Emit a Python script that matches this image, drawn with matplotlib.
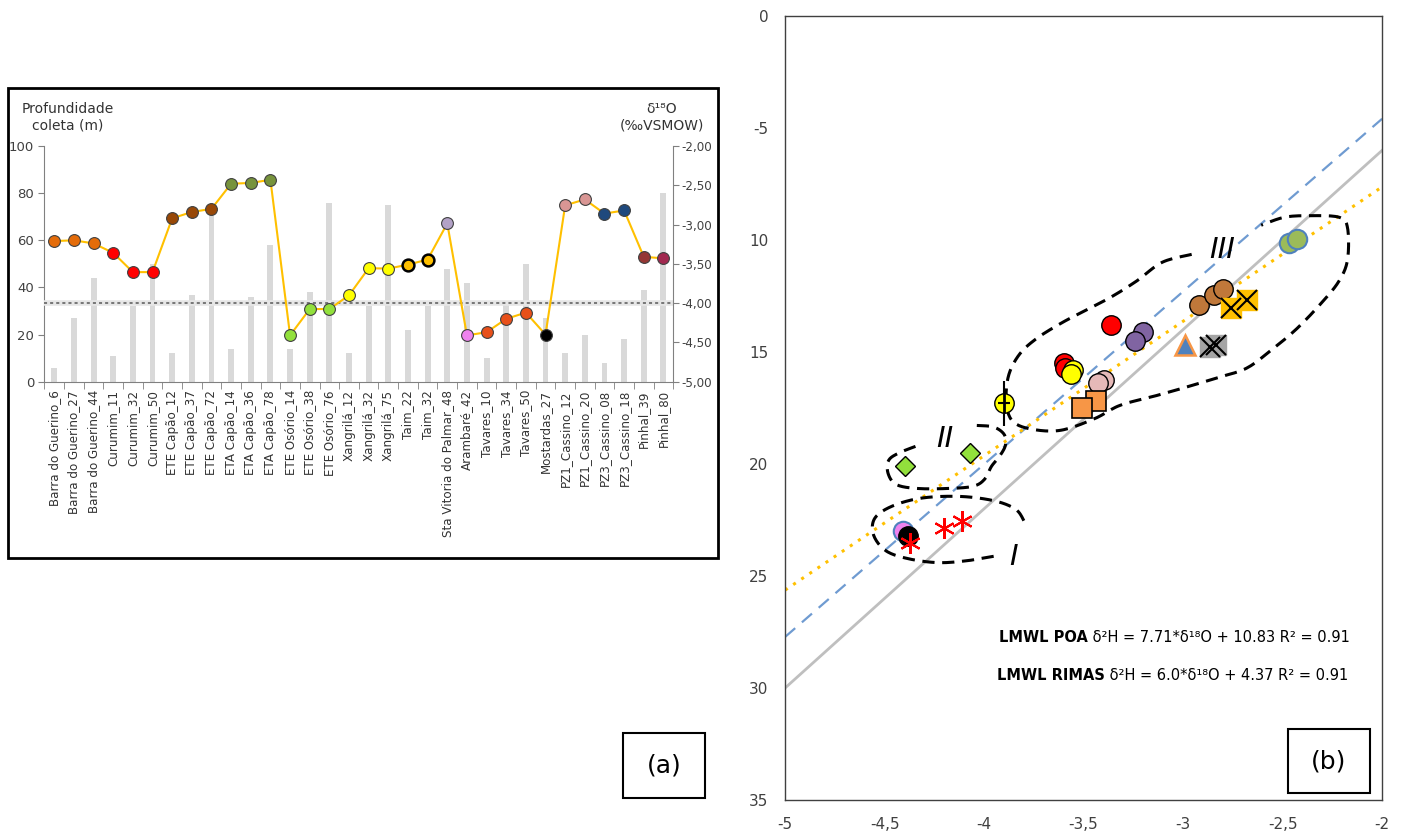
import numpy as np
import matplotlib
matplotlib.use("Agg")
import matplotlib.pyplot as plt
from matplotlib.patches import Rectangle

plt.rcParams['font.family'] = ['DejaVu Sans']

# ---------------- Data: panel (a) ----------------
categories = ["Barra do Guerino_6", "Barra do Guerino_27", "Barra do Guerino_44",
              "Curumim_11", "Curumim_32", "Curumim_50",
              "ETE Capão_12", "ETE Capão_37", "ETE Capão_72",
              "ETA Capão_14", "ETA Capão_36", "ETA Capão_78",
              "ETE Osório_14", "ETE Osório_38", "ETE Osório_76",
              "Xangrilá_12", "Xangrilá_32", "Xangrilá_75",
              "Taim_22", "Taim_32", "Sta Vitoria do Palmar_48", "Arambaré_42",
              "Tavares_10", "Tavares_34", "Tavares_50", "Mostardas_27",
              "PZ1_Cassino_12", "PZ1_Cassino_20", "PZ3_Cassino_08", "PZ3_Cassino_18",
              "Pinhal_39", "Pinhal_80"]
depth_m = [6, 27, 44, 11, 32, 50, 12, 37, 72, 14, 36, 58, 14, 38, 76, 12, 32, 75,
           22, 32, 48, 42, 10, 34, 50, 27, 12, 20, 8, 18, 39, 80]
d18O = [-3.21, -3.20, -3.24, -3.36, -3.605, -3.605, -2.92, -2.84, -2.80,
        -2.48, -2.47, -2.43, -4.41, -4.075, -4.075, -3.90, -3.555, -3.56,
        -3.51, -3.445, -2.985, -4.41, -4.37, -4.20, -4.12, -4.40,
        -2.755, -2.68, -2.86, -2.82, -3.41, -3.43]
point_colors = ["#E46C0A", "#E46C0A", "#E46C0A", "#FF0000", "#FF0000", "#FF0000",
                "#984807", "#984807", "#984807", "#77933C", "#77933C", "#77933C",
                "#92E03C", "#92E03C", "#92E03C", "#FFFF00", "#FFFF00", "#FFFF00",
                "#FFC000", "#FFC000", "#B3A2C7", "#EE82EE",
                "#E8501A", "#E8501A", "#E8501A", "#000000",
                "#D99694", "#D99694", "#1F497D", "#1F497D", "#953735", "#A1284F"]
thick_edge = ["Taim_22", "Taim_32"]
threshold_d18O = -4.0

# ---------------- Data: panel (b) ----------------
gmwl = (8.0, 10.0)
lmwl_poa = (7.71, 10.83)
lmwl_rimas = (6.0, 4.37)

red_x = [-3.60, -3.595, -3.36];      red_y = [15.5, 15.7, 13.8]
yellow_x = [-3.555, -3.565];         yellow_y = [15.8, 16.0]
yellowH_x = [-3.90];                 yellowH_y = [17.3]
purple_x = [-3.20, -3.24];           purple_y = [14.1, 14.5]
pink_x = [-3.40, -3.43];             pink_y = [16.25, 16.4]
orange_sq_x = [-3.44, -3.51];        orange_sq_y = [17.2, 17.5]
brown_x = [-2.92, -2.845, -2.80];    brown_y = [12.9, 12.45, 12.2]
gold_x = [-2.76, -2.68];             gold_y = [13.05, 12.7]
tri_x = [-2.99];                     tri_y = [14.7]
gray_x = [-2.865, -2.835];           gray_y = [14.78, 14.7]
green_x = [-2.47, -2.43];            green_y = [10.15, 9.95]
diamond_x = [-4.40, -4.07];          diamond_y = [20.1, 19.5]
violet_x = [-4.41];                  violet_y = [23.0]
black_x = [-4.38];                   black_y = [23.2]
ast_x = [-4.37, -4.20, -4.11];       ast_y = [23.55, 22.85, 22.55]

xticks_b = [-5, -4.5, -4, -3.5, -3, -2.5, -2]
xticklabels_b = ["-5", "-4,5", "-4", "-3,5", "-3", "-2,5", "-2"]
yticks_b = [0, 5, 10, 15, 20, 25, 30, 35]
yticklabels_b = ["0", "-5", "10", "15", "20", "25", "30", "35"]

# ---------------- Figure ----------------
fig = plt.figure(figsize=(14.02, 8.32), dpi=100)

# Frame around panel (a)
fig.patches.append(Rectangle((0.0057, 0.3293), 0.5064, 0.565, transform=fig.transFigure,
                             fill=False, lw=2, ec='black'))

ax1 = fig.add_axes([0.0317, 0.5412, 0.4485, 0.2833])
ax2 = ax1.twinx()
n = len(categories)
xpos = np.arange(n)
ax1.bar(xpos, depth_m, width=0.3, color="#D9D9D9", zorder=1)
ax1.set_ylim(0, 100)
ax1.set_xlim(-0.5, n - 0.5)
ax1.set_yticks([0, 20, 40, 60, 80, 100])
ax1.set_xticks(xpos)
ax1.set_xticklabels(categories, rotation=90, fontsize=8.6, color="#333333")
ax1.tick_params(axis='x', length=0, pad=6)
ax1.set_xticks(np.arange(-0.5, n, 1.0), minor=True)
ax1.tick_params(axis='x', which='minor', length=5, color='#808080', direction='out')
ax1.tick_params(axis='y', labelsize=9.5, labelcolor='#404040', length=4, color='#808080')
for s in ['top', 'right']:
    ax1.spines[s].set_visible(False)
ax1.spines['left'].set_color('#808080')
ax1.spines['bottom'].set_color('#808080')

ax2.set_ylim(-5, -2)
ax2.set_yticks([-5, -4.5, -4, -3.5, -3, -2.5, -2])
ax2.set_yticklabels(["-5,00", "-4,50", "-4,00", "-3,50", "-3,00", "-2,50", "-2,00"])
ax2.tick_params(axis='y', labelsize=8.6, labelcolor='#404040', length=4, color='#808080', pad=2)
for s in ['top', 'left', 'bottom']:
    ax2.spines[s].set_visible(False)
ax2.spines['right'].set_color('#808080')
ax2.axhline(threshold_d18O, color='#E6E6E6', lw=4, zorder=1)
ax2.axhline(threshold_d18O, color='#595959', lw=1.1, ls=(0, (2, 2)), zorder=2)
ax2.plot(xpos, d18O, color="#FFC000", lw=1.5, zorder=3)
for i in range(n):
    thick = categories[i] in thick_edge
    ax2.plot(xpos[i], d18O[i], 'o', ms=8.5, mfc=point_colors[i],
             mec='black' if thick else '#404040', mew=1.8 if thick else 0.8, zorder=4)

fig.text(0.048, 0.859, "Profundidade\ncoleta (m)", ha='center', va='center',
         fontsize=10, color='#333333', linespacing=1.3)
fig.text(0.472, 0.859, "δ¹⁸O\n(‰VSMOW)", ha='center', va='center',
         fontsize=10, color='#333333', linespacing=1.3)

# (a) label box
fig.patches.append(Rectangle((0.4444, 0.0409), 0.0585, 0.078, transform=fig.transFigure,
                             fill=False, lw=1.5, ec='black'))
fig.text(0.4736, 0.080, "(a)", ha='center', va='center', fontsize=18)

# ---------------- Panel (b) ----------------
axb = fig.add_axes([0.560, 0.0385, 0.4258, 0.9423])
axb.set_xlim(-5, -2)
axb.set_ylim(35, 0)
xl = np.array([-5.0, -2.0])
axb.plot(xl, -(gmwl[0] * xl + gmwl[1]), color='#BFBFBF', lw=2, zorder=1)
axb.plot(xl, -(lmwl_poa[0] * xl + lmwl_poa[1]), color='#6F9BD1', lw=1.6,
         ls=(0, (6, 4)), zorder=1)
axb.plot(xl, -(lmwl_rimas[0] * xl + lmwl_rimas[1]), color='#FFC000', lw=2.2,
         ls=(0, (1, 2.2)), zorder=1)

msz = 14
def circ(x, y, fc, ec='black', ms=msz, mew=1.0, z=3):
    axb.plot(x, y, 'o', ms=ms, mfc=fc, mec=ec, mew=mew, ls='none', zorder=z)

circ(red_x, red_y, '#FF0000')
circ(yellow_x, yellow_y, '#FFFF00')
circ(purple_x, purple_y, '#8064A2')
circ(pink_x, pink_y, '#E6B9B8')
circ(brown_x, brown_y, '#C0783A')
circ(green_x, green_y, '#9BBB59', ec='#4F81BD', mew=1.5)
circ(violet_x, violet_y, '#EE82EE', ec='#4F81BD', mew=1.5)
circ(black_x, black_y, '#000000', z=4)
# yellow point with bar
axb.errorbar(yellowH_x, yellowH_y, yerr=1.0, fmt='none', ecolor='black', elinewidth=1.5, zorder=2)
circ(yellowH_x, yellowH_y, '#FFFF00')
axb.plot(yellowH_x, yellowH_y, marker='_', ms=9, mew=1.5, color='black', ls='none', zorder=4)
axb.plot(yellowH_x, yellowH_y, marker='|', ms=14, mew=2, color='black', ls='none', zorder=4)

axb.plot(orange_sq_x, orange_sq_y, 's', ms=14, mfc='#F79646', mec='black', mew=1.2, ls='none', zorder=3)
axb.plot(gold_x, gold_y, 's', ms=14, mfc='#FFC000', mec='#FFC000', mew=1, ls='none', zorder=3)
axb.plot(gold_x, gold_y, 'x', ms=14, mec='black', mew=1.5, ls='none', zorder=4)
axb.plot(gray_x, gray_y, 's', ms=14, mfc='#A5A5A5', mec='#A5A5A5', mew=1, ls='none', zorder=3)
axb.plot(gray_x, gray_y, 'x', ms=14, mec='black', mew=1.5, ls='none', zorder=4)
axb.plot(tri_x, tri_y, '^', ms=15, mfc='#4F81BD', mec='#F79646', mew=1.8, ls='none', zorder=3)
axb.plot(diamond_x, diamond_y, 'D', ms=10, mfc='#92E03C', mec='black', mew=1.0, ls='none', zorder=3)
axb.plot(ast_x, ast_y, marker=(6, 2, 0), ms=15, mec='#FF0000', mew=1.5, ls='none', zorder=5)

axb.set_xticks(xticks_b)
axb.set_xticklabels(xticklabels_b)
axb.set_yticks(yticks_b)
axb.set_yticklabels(yticklabels_b)
axb.tick_params(length=0, labelsize=11, labelcolor='#404040', pad=12)
for s in axb.spines.values():
    s.set_color('#404040')
    s.set_linewidth(1.0)

# hand-drawn group outlines (axes fractions)
def smooth(pts, n_per=12):
    p = np.array(pts, dtype=float)
    p = np.vstack([p[0], p, p[-1]])
    out = []
    for i in range(1, len(p) - 2):
        p0, p1, p2, p3 = p[i - 1], p[i], p[i + 1], p[i + 2]
        for t in np.linspace(0, 1, n_per, endpoint=False):
            t2, t3 = t * t, t * t * t
            out.append(0.5 * ((2 * p1) + (-p0 + p2) * t + (2 * p0 - 5 * p1 + 4 * p2 - p3) * t2
                              + (-p0 + 3 * p1 - 3 * p2 + p3) * t3))
    out.append(p[-2])
    return np.array(out)

def to_frac(pts):
    return [((x - 105) / 1417.0, 1 - (y - 30) / 1480.0) for x, y in pts]

outline3 = [(1070, 480), (1000, 495), (940, 530), (880, 560), (820, 585), (760, 610),
            (700, 640), (660, 670), (635, 710), (630, 760), (645, 795), (690, 810),
            (760, 812), (840, 790), (900, 765), (980, 748), (1060, 730), (1130, 713),
            (1200, 695), (1260, 660), (1320, 620), (1380, 570), (1420, 530), (1440, 490),
            (1440, 430), (1420, 410), (1350, 407), (1290, 410), (1235, 425)]
outline2 = [(560, 803), (600, 806), (625, 820), (628, 840), (615, 860), (595, 880),
            (578, 905), (550, 918), (490, 922), (420, 922), (370, 915), (350, 895),
            (350, 870), (375, 855), (430, 838)]
outline1 = [(600, 1050), (540, 1058), (470, 1062), (400, 1055), (345, 1040), (315, 1010),
            (318, 978), (360, 955), (430, 940), (520, 937), (600, 945), (650, 960),
            (670, 980), (675, 995)]
for ol in (outline3, outline2, outline1):
    c = smooth(to_frac(ol))
    axb.plot(c[:, 0], c[:, 1], transform=axb.transAxes, color='black', lw=2.2,
             ls=(0, (4, 2.5)), zorder=2)

axb.text(0.732, 0.7015, "III", transform=axb.transAxes, fontsize=21, style='italic',
         ha='center', va='center')
axb.text(0.268, 0.4605, "II", transform=axb.transAxes, fontsize=21, style='italic',
         ha='center', va='center')
axb.text(0.382, 0.310, "I", transform=axb.transAxes, fontsize=21, style='italic',
         ha='center', va='center')

# equations
t1 = fig.text(0.7125, 1 - 637 / 832, "LMWL POA", fontsize=10.5, weight='bold', va='center')
t2 = fig.text(0.711, 1 - 676 / 832, "LMWL RIMAS", fontsize=10.5, weight='bold', va='center')
axb.annotate(" δ²H = 7.71*δ¹⁸O + 10.83 R² = 0.91", xy=(1, 0), xycoords=t1,
             va='bottom', ha='left', fontsize=10.5)
axb.annotate(" δ²H = 6.0*δ¹⁸O + 4.37 R² = 0.91", xy=(1, 0), xycoords=t2,
             va='bottom', ha='left', fontsize=10.5)

# (b) label box
fig.patches.append(Rectangle((0.9187, 0.0469), 0.0585, 0.077, transform=fig.transFigure,
                             fill=False, lw=1.5, ec='black'))
fig.text(0.9478, 0.0853, "(b)", ha='center', va='center', fontsize=18)

fig.savefig("out.png", dpi=100)
